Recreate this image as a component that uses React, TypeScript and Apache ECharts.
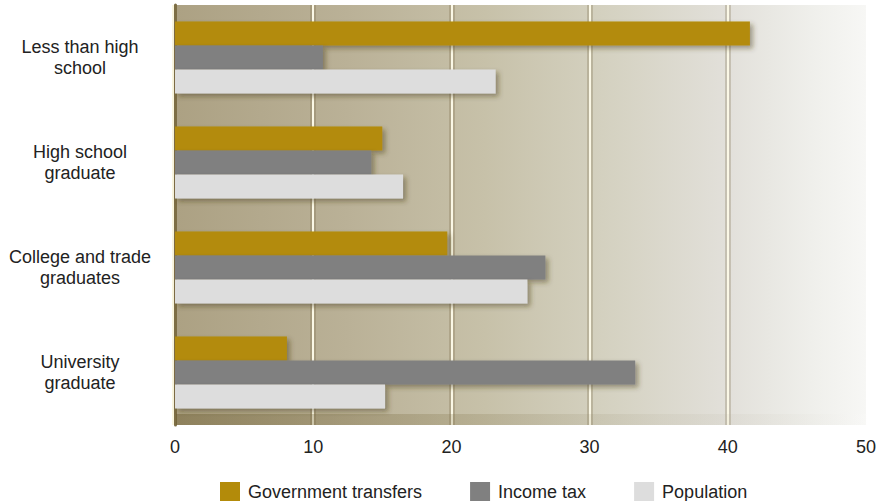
import React, { useEffect, useRef } from "react";
import * as echarts from "echarts";

const categories = [
  "Less than high\nschool",
  "High school\ngraduate",
  "College and trade\ngraduates",
  "University\ngraduate",
];
const governmentTransfers = [41.6, 15.0, 19.7, 8.1];
const incomeTax = [10.7, 14.2, 26.8, 33.3];
const population = [23.2, 16.5, 25.5, 15.2];
const xTicks = { min: 0, max: 50, interval: 10 };

const FONT = "'Liberation Sans', Arial, Helvetica, sans-serif";

export default function App() {
  const ref = useRef<HTMLDivElement>(null);
  useEffect(() => {
    if (!ref.current) return;
    const chart = echarts.init(ref.current, undefined, { renderer: "svg" });
    const barShadow = {
      shadowColor: "rgba(70,55,20,0.45)",
      shadowBlur: 5,
      shadowOffsetX: 3,
      shadowOffsetY: 3,
    };
    const valueAxisBase = {
      type: "value",
      min: xTicks.min,
      max: xTicks.max,
      interval: xTicks.interval,
      axisLine: { show: false },
      axisTick: { show: false },
    };
    chart.setOption({
      animation: false,
      backgroundColor: "#ffffff",
      textStyle: { fontFamily: FONT },
      grid: {
        left: 175,
        right: 11,
        top: 5,
        bottom: 76,
        show: true,
        borderWidth: 0,
        backgroundColor: new echarts.graphic.LinearGradient(0, 0, 1, 0, [
          { offset: 0, color: "#ACA183" },
          { offset: 0.25, color: "#BAB197" },
          { offset: 0.45, color: "#C7C1A9" },
          { offset: 0.62, color: "#D4D1C0" },
          { offset: 0.8, color: "#E2E0DA" },
          { offset: 0.92, color: "#EFEFEB" },
          { offset: 1, color: "#F7F7F5" },
        ]),
      },
      legend: {
        left: 215,
        top: 477,
        itemWidth: 20,
        itemHeight: 20,
        itemGap: 48,
        icon: "rect",
        textStyle: {
          fontSize: 18,
          lineHeight: 16,
          color: "#222",
          fontFamily: FONT,
          padding: [0, 0, 0, 3],
        },
        data: ["Government transfers", "Income tax", "Population"],
      },
      xAxis: [
        {
          ...valueAxisBase,
          axisLabel: { fontSize: 18, color: "#222", margin: 13, fontFamily: FONT },
          splitLine: {
            show: true,
            showMinLine: false,
            showMaxLine: false,
            lineStyle: { color: "rgba(110,95,60,0.25)", width: 6 },
          },
        },
        {
          ...valueAxisBase,
          position: "bottom",
          axisLabel: { show: false },
          splitLine: {
            show: true,
            showMinLine: false,
            showMaxLine: false,
            lineStyle: { color: "#FBF8E6", width: 2 },
          },
        },
      ],
      yAxis: {
        type: "category",
        inverse: true,
        data: categories,
        axisLine: {
          show: true,
          lineStyle: { color: "#7D6E45", width: 3 },
        },
        axisTick: { show: false },
        axisLabel: {
          fontSize: 18,
          color: "#222",
          align: "center",
          margin: 95,
          lineHeight: 21,
          fontFamily: FONT,
        },
        splitLine: { show: false },
      },
      graphic: [
        {
          type: "rect",
          z: 2,
          silent: true,
          shape: { x: 176, y: 414, width: 692, height: 11 },
          style: {
            fill: new echarts.graphic.LinearGradient(0, 0, 1, 0, [
              { offset: 0, color: "rgba(105,90,45,0.45)" },
              { offset: 0.4, color: "rgba(120,105,60,0.22)" },
              { offset: 0.7, color: "rgba(140,130,100,0.08)" },
              { offset: 1, color: "rgba(255,255,255,0.15)" },
            ]),
          },
        },
        {
          type: "rect",
          z: 2,
          silent: true,
          shape: { x: 172, y: 5, width: 2, height: 420 },
          style: { fill: "rgba(250,245,220,0.9)" },
        },
      ],
      series: [
        {
          name: "Government transfers",
          type: "bar",
          z: 5,
          data: governmentTransfers,
          barWidth: 24,
          barGap: "0%",
          itemStyle: { color: "#B38B0A", ...barShadow },
        },
        {
          name: "Income tax",
          type: "bar",
          z: 5,
          data: incomeTax,
          barWidth: 24,
          barGap: "0%",
          itemStyle: { color: "#808080", ...barShadow },
        },
        {
          name: "Population",
          type: "bar",
          z: 5,
          data: population,
          barWidth: 24,
          barGap: "0%",
          itemStyle: { color: "#DDDDDD", ...barShadow },
        },
      ],
    });
    return () => chart.dispose();
  }, []);
  return (
    <div
      ref={ref}
      style={{ position: "fixed", left: 0, top: 0, width: 879, height: 501 }}
    />
  );
}
